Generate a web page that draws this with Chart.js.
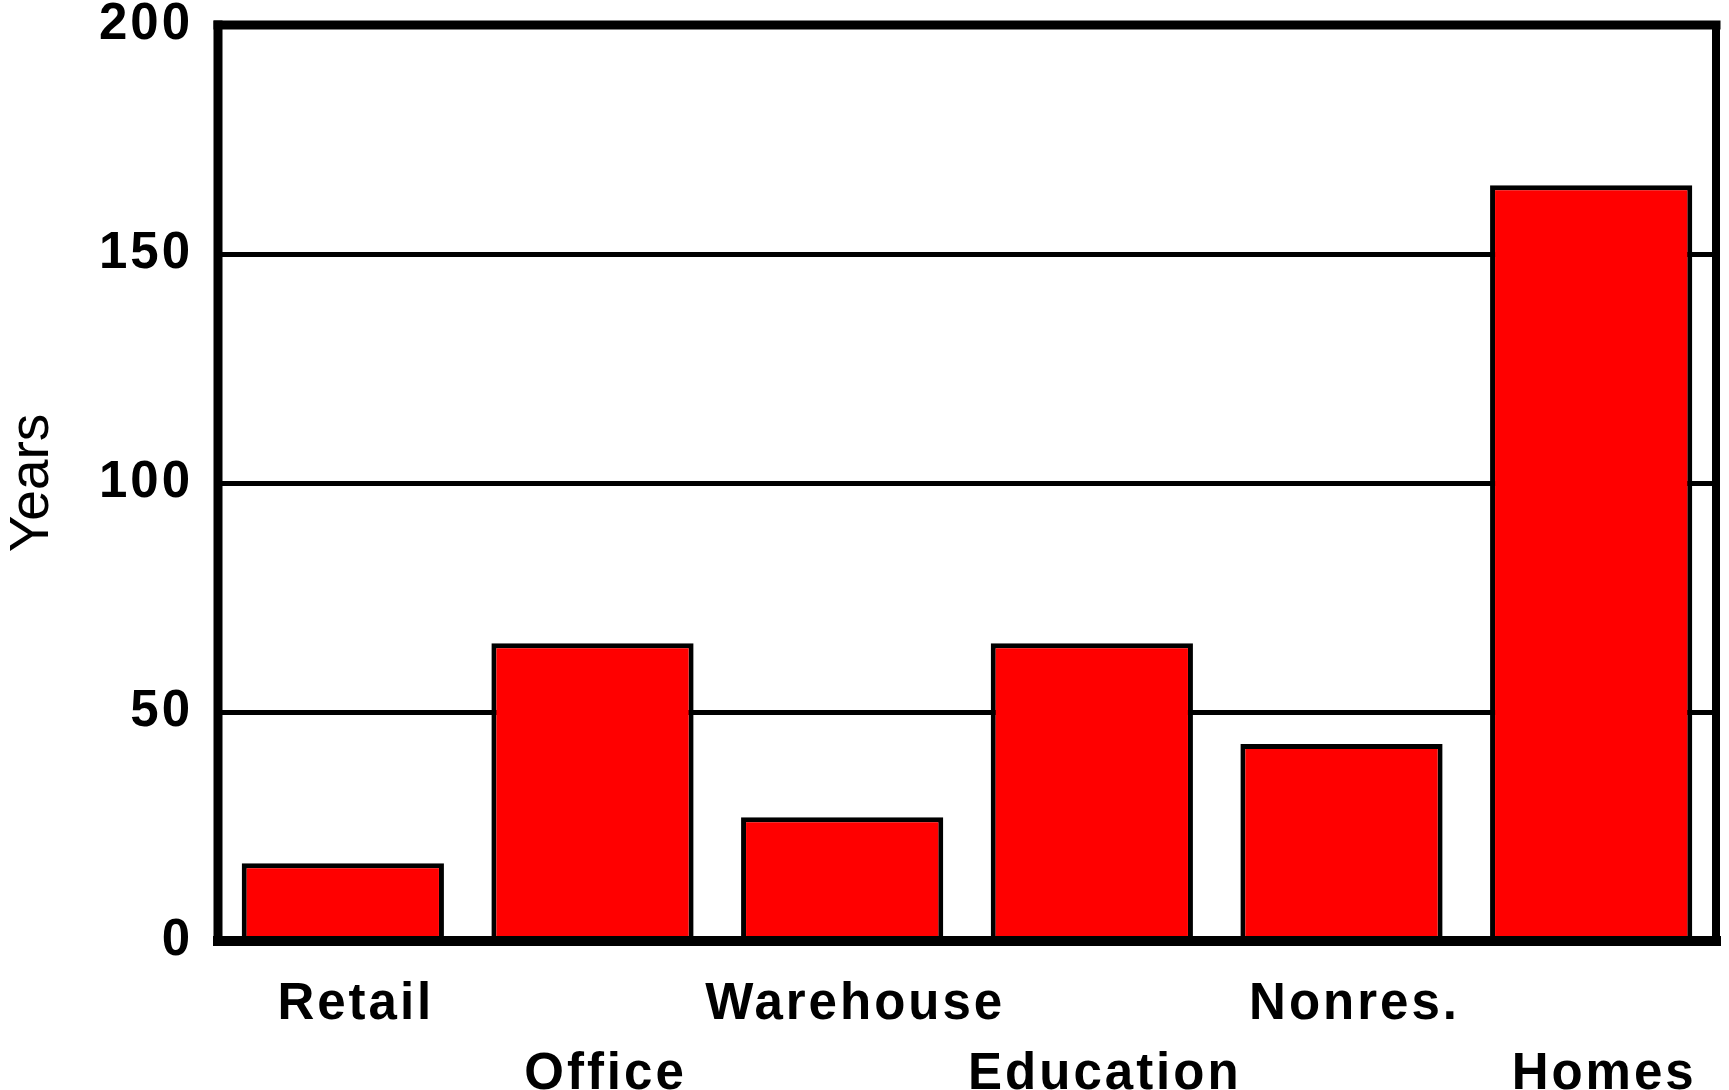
<!DOCTYPE html>
<html>
<head>
<meta charset="utf-8">
<script src="https://cdn.jsdelivr.net/npm/chart.js@4/dist/chart.umd.min.js"></script>
<style>
    html, body {
        margin: 0;
        padding: 0;
        background: #ffffff;
        overflow: hidden;
    }
</style>
</head>
<body>
<canvas id="barChart" width="1729" height="1120"></canvas>
<script>
const categories = ["Retail", "Office", "Warehouse", "Education", "Nonres.", "Homes"];

const years = [17, 65, 27, 65, 43, 165];

const yTicks = [0, 50, 100, 150, 200];

const fontFamily = "'Liberation Sans', Arial, sans-serif";

// wide letter spacing on the bold labels, none on the axis title
const spacing = {
    id: "spacing",

    beforeLayout(chart) {
        chart.ctx.letterSpacing = "3px";
    },

    beforeDraw(chart) {
        chart.ctx.letterSpacing = "3px";

        const y = chart.scales.y;

        if (!y._plainTitle) {
            const drawTitle = y.drawTitle;

            y.drawTitle = function () {
                const old = this.ctx.letterSpacing;
                this.ctx.letterSpacing = "0px";
                drawTitle.call(this);
                this.ctx.letterSpacing = old;
            };

            y._plainTitle = true;
        }
    }
};

// heavy black box round the plot area
const frame = {
    id: "frame",

    afterDatasetsDraw(chart) {
        const ctx = chart.ctx;
        const a = chart.chartArea;

        function edge(x1, y1, x2, y2, w) {
            ctx.lineWidth = w;
            ctx.beginPath();
            ctx.moveTo(x1, y1);
            ctx.lineTo(x2, y2);
            ctx.stroke();
        }

        ctx.save();
        ctx.strokeStyle = "#000000";
        ctx.lineCap = "square";
        edge(a.left, a.top, a.right, a.top, 9);
        edge(a.right, a.top, a.right, a.bottom, 8);
        edge(a.left, a.top, a.left, a.bottom, 9);
        edge(a.left, a.bottom, a.right, a.bottom, 10);
        ctx.restore();
    }
};

new Chart(
    document.getElementById("barChart"),
    {
        type: "bar",

        data: {
            labels: categories,

            datasets: [{
                data: years,
                backgroundColor: "#ff0000",
                borderColor: "#000000",
                borderWidth: 5,
                barPercentage: 0.81,
                categoryPercentage: 1
            }]
        },

        options: {
            responsive: false,
            animation: false,
            devicePixelRatio: 1,

            layout: {
                padding: { left: 0, top: 25, right: 13, bottom: 0 }
            },

            plugins: {
                legend: { display: false },
                tooltip: { enabled: false }
            },

            scales: {
                x: {
                    grid: { display: false, drawTicks: false },
                    border: { display: false },

                    ticks: {
                        autoSkip: false,
                        maxRotation: 0,
                        minRotation: 0,
                        padding: 29,
                        labelOffset: 13,
                        color: "#000000",
                        font: { family: fontFamily, size: 51, weight: "bold", lineHeight: 1.37 },

                        // alternate labels drop to a second row
                        callback: function (value, index) {
                            const label = this.getLabelForValue(value);
                            return index % 2 === 0 ? [label] : ["", label];
                        }
                    },

                    afterFit: function (scale) {
                        scale.height = 1120 - 941;
                    }
                },

                y: {
                    min: 0,
                    max: 200,

                    afterBuildTicks: function (scale) {
                        scale.ticks = yTicks.map(v => ({ value: v }));
                    },

                    // fixed gutter on the left, top label allowed to sit in the margin
                    afterFit: function (scale) {
                        scale.width = 218;
                        scale.paddingTop = 0;
                        scale.paddingBottom = 0;
                    },

                    grid: {
                        color: "#000000",
                        lineWidth: 5,
                        drawTicks: false
                    },

                    border: { display: false },

                    ticks: {
                        padding: 25,
                        color: "#000000",
                        font: { family: fontFamily, size: 51, weight: "bold", lineHeight: 1 }
                    },

                    title: {
                        display: true,
                        text: "Years",
                        color: "#000000",
                        padding: 0,
                        font: { family: fontFamily, size: 55, weight: "normal", lineHeight: 1.2 }
                    }
                }
            }
        },

        plugins: [spacing, frame]
    }
);
</script>
</body>
</html>
